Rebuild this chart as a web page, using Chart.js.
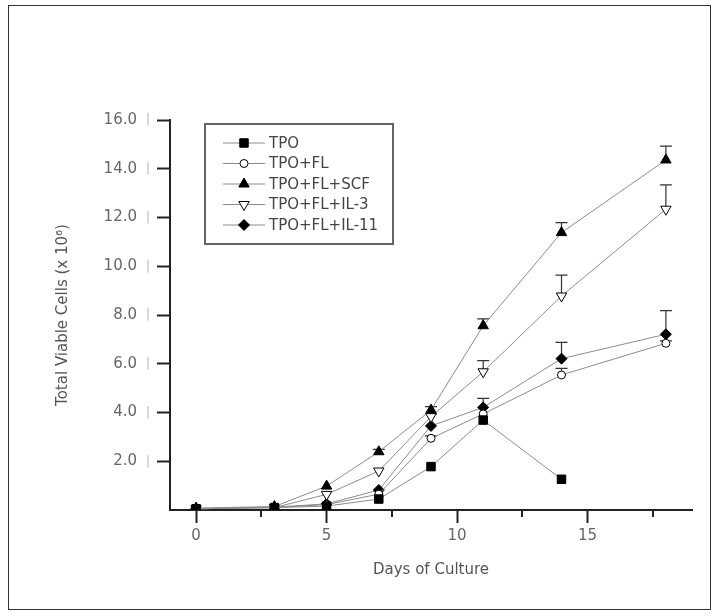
<!DOCTYPE html>
<html>
<head>
<meta charset="utf-8">
<script src="https://cdn.jsdelivr.net/npm/chart.js@4.4.1/dist/chart.umd.min.js"></script>
<style>
html, body { margin: 0; padding: 0; background: #fff; }
#wrap { position: relative; width: 717px; height: 616px; }
#frame { position: absolute; left: 8px; top: 5px; width: 703px; height: 605px; border: 1px solid #333; box-sizing: border-box; pointer-events: none; }
canvas { position: absolute; left: 0; top: 0; }
</style>
</head>
<body>
<div id="wrap">
  <canvas id="chart" width="717" height="616"></canvas>
  <div id="frame"></div>
</div>
<script>
// days of culture (x) and the series (x 10^6 cells)
const days = [0, 3, 5, 7, 9, 11, 14, 18];
const tpo       = [0.05, 0.10, 0.16, 0.45, 1.78, 3.69, 1.26, null];
const tpoFl     = [0.05, 0.10, 0.22, 0.65, 2.94, 3.94, 5.54, 6.84];
const tpoFlScf  = [0.08, 0.14, 0.98, 2.39, 4.10, 7.56, 11.38, 14.36];
const tpoFlIl3  = [0.05, 0.10, 0.64, 1.60, 3.83, 5.67, 8.78, 12.34];
const tpoFlIl11 = [0.05, 0.12, 0.25, 0.82, 3.45, 4.21, 6.21, 7.21];

// upper error bars (+SD)
const tpoErr  = [0, 0, 0, 0, 0, 0, 0, null];
const flErr   = [0, 0, 0, 0, 0.10, 0, 0.27, 0.10];
const scfErr  = [0, 0, 0, 0.10, 0.14, 0.28, 0.41, 0.57];
const il3Err  = [0, 0, 0, 0, 0.10, 0.46, 0.86, 1.00];
const il11Err = [0, 0, 0, 0, 0, 0.37, 0.67, 0.97];

const seriesLabels = ['TPO', 'TPO+FL', 'TPO+FL+SCF', 'TPO+FL+IL-3', 'TPO+FL+IL-11'];
const xTicks = [0, 5, 10, 15];
const xMinorTicks = [2.5, 7.5, 12.5, 17.5];
const yTicks = [2, 4, 6, 8, 10, 12, 14, 16];

const FONT = 'DejaVu Sans, Liberation Sans, Arial, sans-serif';

function toPoints(vals) {
    return days.map((d, i) => ({ x: d, y: vals[i] })).filter(p => p.y !== null);
}

function makeSet(label, vals, errs, style) {
    return {
        label: label,
        data: toPoints(vals),
        errors: errs.filter(e => e !== null),
        borderColor: '#8c8c8c',
        borderWidth: 1,
        tension: 0,
        pointStyle: style.pointStyle,
        pointRotation: style.rotation || 0,
        pointRadius: style.radius,
        pointBackgroundColor: style.fill,
        pointBorderColor: '#000',
        pointBorderWidth: 1
    };
}

const datasets = [
    makeSet(seriesLabels[0], tpo, tpoErr, { pointStyle: 'rect', radius: 6, fill: '#000' }),
    makeSet(seriesLabels[1], tpoFl, flErr, { pointStyle: 'circle', radius: 4, fill: '#fff' }),
    makeSet(seriesLabels[2], tpoFlScf, scfErr, { pointStyle: 'triangle', radius: 6, fill: '#000' }),
    makeSet(seriesLabels[3], tpoFlIl3, il3Err, { pointStyle: 'triangle', rotation: 180, radius: 6, fill: '#fff' }),
    makeSet(seriesLabels[4], tpoFlIl11, il11Err, { pointStyle: 'rectRot', radius: 5.5, fill: '#000' })
];

// error bars, minor ticks, axis titles and the boxed legend
const decorPlugin = {
    id: 'decor',
    beforeDatasetsDraw(chart) {
        const ctx = chart.ctx;
        const xs = chart.scales.x, ys = chart.scales.y;
        ctx.save();
        ctx.strokeStyle = '#333';
        ctx.lineWidth = 1.2;
        chart.data.datasets.forEach(ds => {
            ds.data.forEach((p, j) => {
                const e = ds.errors[j];
                if (!e) return;
                const px = xs.getPixelForValue(p.x);
                const py = ys.getPixelForValue(p.y);
                const pt = ys.getPixelForValue(p.y + e);
                ctx.beginPath();
                ctx.moveTo(px, py);
                ctx.lineTo(px, pt);
                ctx.moveTo(px - 6, pt);
                ctx.lineTo(px + 6, pt);
                ctx.stroke();
            });
        });
        ctx.restore();
    },
    afterDraw(chart) {
        const ctx = chart.ctx;
        const area = chart.chartArea;
        const xs = chart.scales.x, ys = chart.scales.y;
        ctx.save();

        // minor ticks on the x axis
        ctx.strokeStyle = '#222';
        ctx.lineWidth = 2;
        xMinorTicks.forEach(v => {
            const px = Math.round(xs.getPixelForValue(v));
            ctx.beginPath();
            ctx.moveTo(px, area.bottom);
            ctx.lineTo(px, area.bottom + 7);
            ctx.stroke();
        });

        // the faint bars next to the y tick labels
        ctx.fillStyle = '#bbb';
        ctx.font = '13px ' + FONT;
        ctx.textAlign = 'center';
        ctx.textBaseline = 'middle';
        yTicks.forEach(v => {
            ctx.fillText('|', area.left - 22, ys.getPixelForValue(v));
        });

        // axis titles
        ctx.fillStyle = '#555';
        ctx.font = '15px ' + FONT;
        ctx.fillText('Days of Culture', (area.left + area.right) / 2, area.bottom + 60);
        ctx.save();
        ctx.translate(63, (area.top + area.bottom) / 2);
        ctx.rotate(-Math.PI / 2);
        ctx.fillText('Total Viable Cells (x 10\u2076)', 0, 0);
        ctx.restore();

        // legend box
        const bx = area.left + 35, by = area.top + 4, bw = 188, bh = 120;
        ctx.strokeStyle = '#666';
        ctx.lineWidth = 2;
        ctx.strokeRect(bx, by, bw, bh);
        ctx.textAlign = 'left';
        chart.data.datasets.forEach((ds, i) => {
            const ry = by + 19 + i * 20.5;
            ctx.strokeStyle = '#8c8c8c';
            ctx.lineWidth = 1;
            ctx.beginPath();
            ctx.moveTo(bx + 18, ry);
            ctx.lineTo(bx + 60, ry);
            ctx.stroke();
            ctx.fillStyle = ds.pointBackgroundColor;
            ctx.strokeStyle = '#000';
            ctx.lineWidth = 1;
            Chart.helpers.drawPoint(ctx, {
                pointStyle: ds.pointStyle,
                rotation: ds.pointRotation,
                radius: ds.pointRadius,
                borderWidth: 1
            }, bx + 39, ry);
            ctx.fillStyle = '#444';
            ctx.font = '15px ' + FONT;
            ctx.fillText(ds.label, bx + 64, ry + 1);
        });
        ctx.restore();
    }
};

new Chart(document.getElementById('chart'), {
    type: 'line',
    data: { datasets: datasets },
    options: {
        responsive: false,
        animation: false,
        devicePixelRatio: 1,
        layout: { padding: { top: 120, right: 25, left: 0, bottom: 0 } },
        plugins: { legend: { display: false }, tooltip: { enabled: false } },
        scales: {
            x: {
                type: 'linear',
                min: -1,
                max: 19,
                afterBuildTicks: s => { s.ticks = xTicks.map(v => ({ value: v })); },
                afterFit: s => { s.height = 106; },
                grid: { drawOnChartArea: false, drawTicks: true, tickLength: 13, tickColor: '#222', tickWidth: 2 },
                border: { display: true, color: '#222', width: 2 },
                ticks: { color: '#666', font: { family: FONT, size: 15 }, padding: 4, maxRotation: 0, autoSkip: false }
            },
            y: {
                min: 0,
                max: 16,
                afterBuildTicks: s => { s.ticks = yTicks.map(v => ({ value: v })); },
                afterFit: s => { s.width = 170; },
                grid: { drawOnChartArea: false, drawTicks: true, tickLength: 13, tickColor: '#222', tickWidth: 2 },
                border: { display: true, color: '#222', width: 2 },
                ticks: { color: '#666', font: { family: FONT, size: 15 }, padding: 20, callback: v => v.toFixed(1) }
            }
        }
    },
    plugins: [decorPlugin]
});
</script>
</body>
</html>
